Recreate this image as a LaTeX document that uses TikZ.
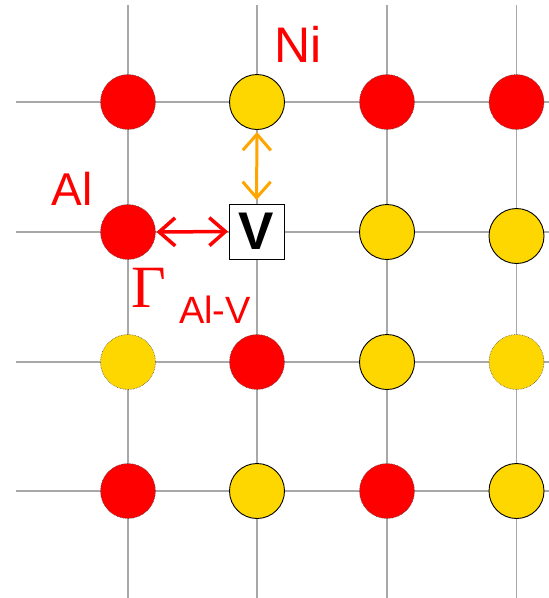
\documentclass[tikz,border=0pt]{standalone}
\usepackage{fontspec}
\setmainfont{Liberation Sans}
\newfontfamily\gamfont{Liberation Serif}
\usetikzlibrary{arrows.meta}
\definecolor{atomred}{HTML}{FF0000}
\definecolor{atomyel}{HTML}{FFD700}
\definecolor{gridgray}{HTML}{A8A8A8}
\definecolor{arrorange}{HTML}{FFA500}
\begin{document}
\begin{tikzpicture}[x=1pt,y=-1pt,
  gridline/.style={draw=gridgray,line width=1.4pt},
  atom/.style={circle,minimum size=55pt,inner sep=0pt,outer sep=0pt},
  alatom/.style={atom,fill=atomred,draw=black!70,densely dotted,line width=0.6pt},
  nidot/.style={atom,fill=atomyel,draw=black!70,densely dotted,line width=0.6pt},
  niatom/.style={atom,fill=atomyel,draw=black,line width=0.9pt},
  vacbox/.style={rectangle,draw=black,fill=white,line width=0.9pt,minimum size=55pt,inner sep=0pt,outer sep=0pt,
     font=\fontsize{53}{60}\selectfont\bfseries},
  lbl/.style={inner sep=0pt,outer sep=0pt,text=atomred,anchor=base},
  hop/.style={{Straight Barb[length=16pt,width=28pt]}-{Straight Barb[length=16pt,width=28pt]}}
]
\useasboundingbox (0,0) rectangle (549,598);
% grid
\foreach \yy in {102,232,362,491} \draw[gridline] (16,\yy) -- (549,\yy);
\foreach \xx in {128,257,387,516.5} \draw[gridline] (\xx,5) -- (\xx,598);
% row 1
\node[alatom] (a11) at (128,102) {};
\node[niatom] (a12) at (257,102) {};
\node[alatom] (a13) at (387,102) {};
\node[alatom] (a14) at (516.5,102) {};
% row 2
\node[alatom] (a21) at (128,232) {};
\node[vacbox] (v) at (256.5,231.5) {V};
\node[niatom] (a23) at (387,232) {};
\node[niatom] (a24) at (516.5,236) {};
% row 3
\node[nidot] (a31) at (128,362) {};
\node[alatom] (a32) at (257,362) {};
\node[niatom] (a33) at (387,362) {};
\node[nidot] (a34) at (516.5,362) {};
% row 4
\node[alatom] (a41) at (128,491) {};
\node[niatom] (a42) at (257,491) {};
\node[alatom] (a43) at (387,491) {};
\node[niatom] (a44) at (516.5,491) {};
% jumps
\draw[hop,draw=atomred,line width=3.5pt,shorten <=1pt,shorten >=1pt] (a21.east) -- (v.west);
\draw[hop,draw=arrorange,line width=3pt,shorten <=2.5pt,shorten >=4pt] (a12.south) -- (v.north);
% labels
\node[lbl,font=\fontsize{50}{60}\selectfont] (ni) at (298,62) {Ni};
\node[lbl,font=\fontsize{46}{56}\selectfont] (al) at (72,205) {Al};
\node[lbl,font=\fontsize{60}{68}\selectfont\gamfont] (gam) at (148.5,307) {Γ};
\node[lbl,font=\fontsize{38}{46}\selectfont] (alv) at (215,323) {Al-V};
\end{tikzpicture}
\end{document}
